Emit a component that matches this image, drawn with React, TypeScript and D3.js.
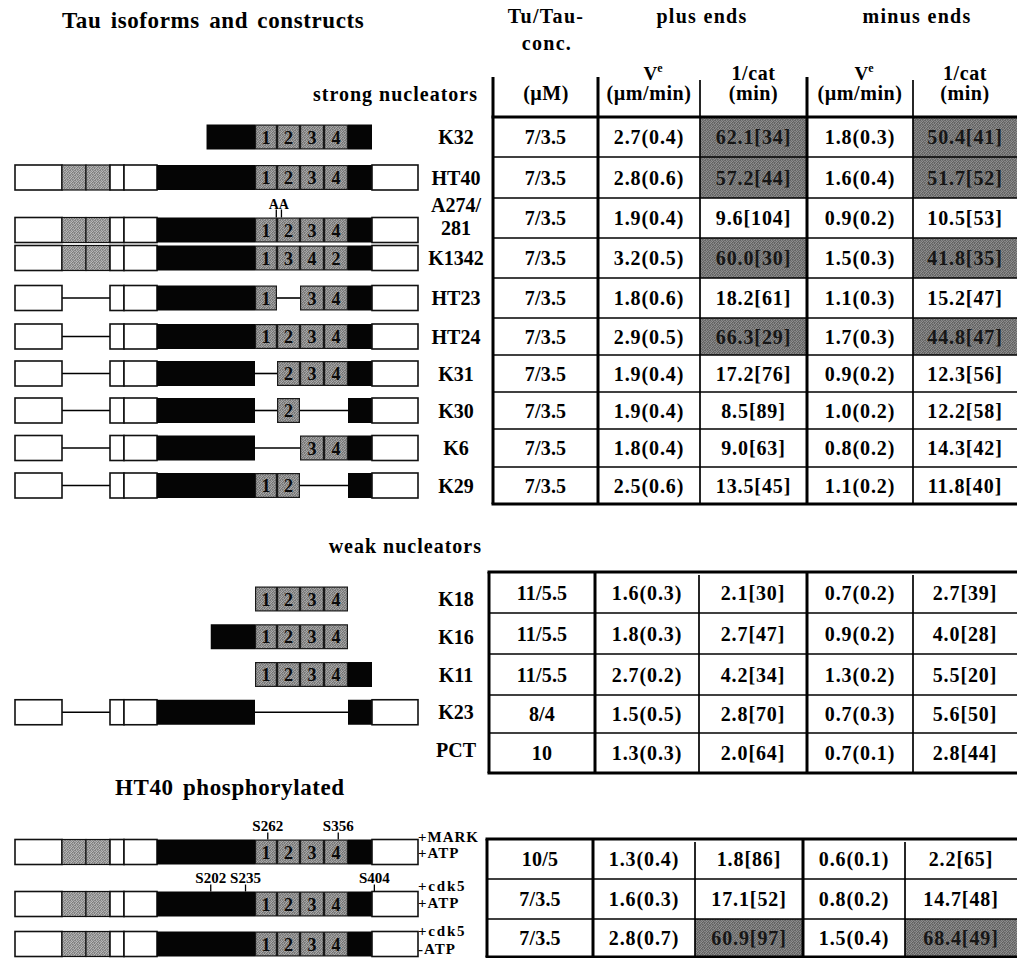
import React from 'react';
import * as d3 from 'd3';

// ---------------- data ----------------
const strongNames = ['K32', 'HT40', 'A274/281', 'K1342', 'HT23', 'HT24', 'K31', 'K30', 'K6', 'K29'];
const strongConc = ['7/3.5', '7/3.5', '7/3.5', '7/3.5', '7/3.5', '7/3.5', '7/3.5', '7/3.5', '7/3.5', '7/3.5'];
const strongPlusV = [2.7, 2.8, 1.9, 3.2, 1.8, 2.9, 1.9, 1.9, 1.8, 2.5];
const strongPlusVsd = [0.4, 0.6, 0.4, 0.5, 0.6, 0.5, 0.4, 0.4, 0.4, 0.6];
const strongPlusCat = [62.1, 57.2, 9.6, 60.0, 18.2, 66.3, 17.2, 8.5, 9.0, 13.5];
const strongPlusN = [34, 44, 104, 30, 61, 29, 76, 89, 63, 45];
const strongMinusV = [1.8, 1.6, 0.9, 1.5, 1.1, 1.7, 0.9, 1.0, 0.8, 1.1];
const strongMinusVsd = [0.3, 0.4, 0.2, 0.3, 0.3, 0.3, 0.2, 0.2, 0.2, 0.2];
const strongMinusCat = [50.4, 51.7, 10.5, 41.8, 15.2, 44.8, 12.3, 12.2, 14.3, 11.8];
const strongMinusN = [41, 52, 53, 35, 47, 47, 56, 58, 42, 40];

const weakNames = ['K18', 'K16', 'K11', 'K23', 'PCT'];
const weakConc = ['11/5.5', '11/5.5', '11/5.5', '8/4', '10'];
const weakPlusV = [1.6, 1.8, 2.7, 1.5, 1.3];
const weakPlusVsd = [0.3, 0.3, 0.2, 0.5, 0.3];
const weakPlusCat = [2.1, 2.7, 4.2, 2.8, 2.0];
const weakPlusN = [30, 47, 34, 70, 64];
const weakMinusV = [0.7, 0.9, 1.3, 0.7, 0.7];
const weakMinusVsd = [0.2, 0.2, 0.2, 0.3, 0.1];
const weakMinusCat = [2.7, 4.0, 5.5, 5.6, 2.8];
const weakMinusN = [39, 28, 20, 50, 44];

const phosNames = ['MARK+ATP', 'cdk5+ATP', 'cdk5-ATP'];
const phosTreatment = [['+MARK', '+ATP'], ['+cdk5', '+ATP'], ['+cdk5', '-ATP']];
const phosConc = ['10/5', '7/3.5', '7/3.5'];
const phosPlusV = [1.3, 1.6, 2.8];
const phosPlusVsd = [0.4, 0.3, 0.7];
const phosPlusCat = [1.8, 17.1, 60.9];
const phosPlusN = [86, 52, 97];
const phosMinusV = [0.6, 0.8, 1.5];
const phosMinusVsd = [0.1, 0.2, 0.4];
const phosMinusCat = [2.2, 14.7, 68.4];
const phosMinusN = [65, 48, 49];
const phosSites = [[262, 356], [202, 235, 404], []];

// HT40 domains in residue numbers: [from, to, kind]
const DOMAINS: Record<string, [number, number, string]> = {
  N: [1, 45, 'white'],
  N1: [45, 74, 'insert'],
  N2: [74, 103, 'insert'],
  E4: [103, 118, 'white'],
  P0: [118, 151, 'white'],
  P: [151, 244, 'black'],
  R1: [244, 275, 'repeat'],
  R2: [275, 306, 'repeat'],
  R3: [306, 337, 'repeat'],
  R4: [337, 369, 'repeat'],
  C1: [369, 402, 'black'],
  C2: [402, 441, 'white'],
};
const domainBreaks = [1, 45, 74, 103, 118, 151, 244, 275, 306, 337, 369, 402, 441];

// construct layouts ('-' = deleted region drawn as a linker line, '@' = truncated start)
const HT40_SPEC = 'N N1 N2 E4 P0 P R1 R2 R3 R4 C1 C2';
const strongConstructs = [
  'P@198 R1 R2 R3 R4 C1',
  HT40_SPEC,
  HT40_SPEC,
  HT40_SPEC,
  'N - - E4 P0 P R1 - R3 R4 C1 C2',
  'N - - E4 P0 P R1 R2 R3 R4 C1 C2',
  'N - - E4 P0 P - R2 R3 R4 C1 C2',
  'N - - E4 P0 P - R2 - - C1 C2',
  'N - - E4 P0 P - - R3 R4 C1 C2',
  'N - - E4 P0 P R1 R2 - - C1 C2',
];
const strongRepeatLabels = [null, null, null, ['1', '3', '4', '2'], null, null, null, null, null, null];
const mutationSites = [274, 281];
const mutationLabel = 'AA';
const weakConstructs = ['R1 R2 R3 R4', 'P@202 R1 R2 R3 R4', 'R1 R2 R3 R4 C1', 'N - - E4 P0 P - - - - C1 C2', ''];
const phosConstructs = [HT40_SPEC, HT40_SPEC, HT40_SPEC];

// ---------------- layout ----------------
const W = 1017;
const H = 958;
const FONT = "'Liberation Serif', 'Times New Roman', Times, serif";
const BAR_H = 25;
const LABEL_X = 456;

const res = d3
  .scaleLinear()
  .domain(domainBreaks)
  .range([15, 62, 86, 110, 124, 157, 255, 277, 300, 324, 348, 372, 418]);

const strongRowEdges = [117, 157, 198, 238, 278, 318, 355, 392, 429, 467, 504];
const weakRowEdges = [572, 613, 654, 695, 733, 773];
const phosRowEdges = [839, 879, 919, 957];

const strongCols = [493, 598, 700, 807, 913, 1017];
const weakCols = [489, 595, 699, 807, 913, 1017];
const phosCols = [487, 593, 695, 803, 905, 1017];
const thickCol = [true, true, false, true, false];

// halftone texture cells
const GRAIN = [
  [0.84, 1.18, 0.94, 1.1, 0.9],
  [1.1, 0.92, 1.22, 0.82, 1.14],
  [0.96, 1.24, 0.8, 1.04, 0.88],
  [1.2, 0.86, 1.08, 1.16, 0.8],
  [0.9, 1.06, 0.86, 0.94, 1.22],
];

function Grain({ id, base }: { id: string; base: number }) {
  return (
    <pattern id={id} width={5} height={5} patternUnits="userSpaceOnUse">
      {GRAIN.flatMap((row, r) =>
        row.map((k, c) => {
          const g = Math.max(0, Math.min(255, Math.round(base * k)));
          return <rect key={`${r}-${c}`} x={c} y={r} width={1} height={1} fill={`rgb(${g},${g},${g})`} />;
        })
      )}
    </pattern>
  );
}

function parseConstruct(spec: string) {
  const tokens = spec.split(/\s+/).filter(Boolean);
  const boxes: { key: string; from: number; to: number; kind: string }[] = [];
  const links: [number, number][] = [];
  let gap = false;
  let lastEnd: number | null = null;
  for (const t of tokens) {
    if (t === '-') {
      gap = true;
      continue;
    }
    const [key, start] = t.split('@');
    const [f0, to, kind] = DOMAINS[key];
    const from = start ? +start : f0;
    if (gap && lastEnd != null) links.push([lastEnd, from]);
    gap = false;
    boxes.push({ key, from, to, kind });
    lastEnd = to;
  }
  return { boxes, links };
}

function Construct({ spec, cy, h = BAR_H, labels }: { spec: string; cy: number; h?: number; labels?: string[] | null }) {
  const { boxes, links } = parseConstruct(spec);
  const top = cy - h / 2;
  const rl = labels || ['1', '2', '3', '4'];
  return (
    <g>
      {links.map(([a, b], i) => (
        <line key={`l${i}`} x1={res(a)} x2={res(b)} y1={cy} y2={cy} stroke="#000" strokeWidth={1.6} />
      ))}
      {boxes.map((b, i) => {
        const x0 = res(b.from);
        const w = res(b.to) - x0;
        if (b.kind === 'black') return <rect key={i} x={x0} y={top} width={w} height={h} fill="#050505" />;
        if (b.kind === 'white')
          return <rect key={i} x={x0} y={top} width={w} height={h} fill="#fff" stroke="#111" strokeWidth={1.6} />;
        if (b.kind === 'insert')
          return <rect key={i} x={x0} y={top} width={w} height={h} fill="url(#grainInsert)" stroke="#111" strokeWidth={1.2} />;
        const idx = +b.key.slice(1) - 1;
        return (
          <g key={i}>
            <rect x={x0 + 0.6} y={top + 0.6} width={w - 1.2} height={h - 1.2} fill="url(#grainRepeat)" stroke="#1a1a1a" strokeWidth={1.2} />
            <text x={x0 + w / 2} y={cy + 6.5} textAnchor="middle" fontSize={18} fontWeight="bold" fill="#0a0a0a">
              {rl[idx]}
            </text>
          </g>
        );
      })}
    </g>
  );
}

const fmtV = (v: number, sd: number) => `${v.toFixed(1)}(${sd.toFixed(1)})`;
const fmtCat = (c: number, n: number) => `${c.toFixed(1)}[${n}]`;

type TableProps = {
  rowEdges: number[];
  cols: number[];
  conc: string[];
  plusV: number[];
  plusVsd: number[];
  plusCat: number[];
  plusN: number[];
  minusV: number[];
  minusVsd: number[];
  minusCat: number[];
  minusN: number[];
  lineTop: number;
  topLine: number;
};

function DataTable(p: TableProps) {
  const n = p.conc.length;
  const rowY = d3.scaleLinear().domain(d3.range(n + 1)).range(p.rowEdges);
  const bottom = p.rowEdges[n];
  const cx = (j: number) => (p.cols[j] + p.cols[j + 1]) / 2;
  const rows = d3.range(n).map((i) => [
    { text: p.conc[i], shade: false },
    { text: fmtV(p.plusV[i], p.plusVsd[i]), shade: false },
    { text: fmtCat(p.plusCat[i], p.plusN[i]), shade: p.plusCat[i] > 30 },
    { text: fmtV(p.minusV[i], p.minusVsd[i]), shade: false },
    { text: fmtCat(p.minusCat[i], p.minusN[i]), shade: p.minusCat[i] > 30 },
  ]);
  return (
    <g>
      {rows.map((cells, i) =>
        cells.map((c, j) =>
          c.shade ? (
            <rect
              key={`s${i}-${j}`}
              x={p.cols[j]}
              y={rowY(i)}
              width={p.cols[j + 1] - p.cols[j]}
              height={rowY(i + 1) - rowY(i)}
              fill="url(#grainCell)"
            />
          ) : null
        )
      )}
      {rows.map((cells, i) =>
        cells.map((c, j) => (
          <text
            key={`t${i}-${j}`}
            x={cx(j)}
            y={rowY(i + 0.5) + 7}
            textAnchor="middle"
            fontSize={20}
            fontWeight="bold"
            letterSpacing={j === 0 ? 0.2 : 0.9}
            fill={c.shade ? '#161616' : '#000'}
          >
            {c.text}
          </text>
        ))
      )}
      {/* horizontal rules */}
      {d3.range(1, n).map((i) => (
        <line key={`h${i}`} x1={p.cols[0]} x2={W} y1={rowY(i)} y2={rowY(i)} stroke="#000" strokeWidth={1.7} />
      ))}
      <line x1={p.cols[0] - 1.5} x2={W} y1={p.topLine} y2={p.topLine} stroke="#000" strokeWidth={3} />
      <line x1={p.cols[0] - 1.5} x2={W} y1={bottom} y2={bottom} stroke="#000" strokeWidth={3} />
      {/* vertical rules */}
      {p.cols.slice(0, 5).map((x, j) => (
        <line
          key={`v${j}`}
          x1={x}
          x2={x}
          y1={thickCol[j] ? p.lineTop : p.lineTop + 3}
          y2={bottom}
          stroke="#000"
          strokeWidth={thickCol[j] ? 3 : 1.7}
        />
      ))}
    </g>
  );
}

export default function App() {
  const strongY = d3.scaleLinear().domain(d3.range(strongNames.length + 1)).range(strongRowEdges);
  const weakY = d3.scalePoint().domain(weakNames).range([599, 750]);
  const phosBarY = [852, 904, 944];
  const treatDy = [[-10, 6], [-13, 4], [-8, 10]];

  const hdr = { fontSize: 20, fontWeight: 'bold' as const, letterSpacing: 1.3, textAnchor: 'middle' as const };

  return (
    <svg
      width={W}
      height={H}
      viewBox={`0 0 ${W} ${H}`}
      style={{ position: 'absolute', left: 0, top: 0, background: '#fff' }}
      fontFamily={FONT}
    >
      <defs>
        <Grain id="grainRepeat" base={140} />
        <Grain id="grainInsert" base={152} />
        <Grain id="grainCell" base={118} />
      </defs>
      <rect width={W} height={H} fill="#fff" />

      {/* titles */}
      <text x={62} y={28} fontSize={23} fontWeight="bold" letterSpacing={0.6} wordSpacing={3}>
        Tau isoforms and constructs
      </text>
      <text x={478} y={101} fontSize={20} fontWeight="bold" letterSpacing={1} textAnchor="end">
        strong nucleators
      </text>
      <text x={482} y={553} fontSize={20} fontWeight="bold" letterSpacing={1} textAnchor="end">
        weak nucleators
      </text>
      <text x={115} y={795} fontSize={23} fontWeight="bold" letterSpacing={0.6} wordSpacing={3}>
        HT40 phosphorylated
      </text>

      {/* column headers */}
      <text x={546} y={23} {...hdr}>Tu/Tau-</text>
      <text x={547} y={50} {...hdr}>conc.</text>
      <text x={702} y={23} {...hdr}>plus ends</text>
      <text x={917} y={23} {...hdr}>minus ends</text>
      <text x={546} y={100} {...hdr} letterSpacing={0.5}>(µM)</text>
      {[strongCols[1], strongCols[3]].map((x0, k) => {
        const c1 = (x0 + strongCols[k * 2 + 2]) / 2;
        const c2 = (strongCols[k * 2 + 2] + strongCols[k * 2 + 3]) / 2;
        return (
          <g key={k}>
            <text x={c1 + 4} y={80} fontSize={19} fontWeight="bold" textAnchor="middle">
              V<tspan fontSize={12} dy={-8}>e</tspan>
            </text>
            <text x={c1} y={100} {...hdr} letterSpacing={0.6}>(µm/min)</text>
            <text x={c2} y={80} {...hdr} letterSpacing={0.6}>1/cat</text>
            <text x={c2} y={100} {...hdr} letterSpacing={0.6}>(min)</text>
          </g>
        );
      })}

      {/* tables */}
      <DataTable
        rowEdges={strongRowEdges}
        cols={strongCols}
        conc={strongConc}
        plusV={strongPlusV}
        plusVsd={strongPlusVsd}
        plusCat={strongPlusCat}
        plusN={strongPlusN}
        minusV={strongMinusV}
        minusVsd={strongMinusVsd}
        minusCat={strongMinusCat}
        minusN={strongMinusN}
        lineTop={77}
        topLine={117}
      />
      <DataTable
        rowEdges={weakRowEdges}
        cols={weakCols}
        conc={weakConc}
        plusV={weakPlusV}
        plusVsd={weakPlusVsd}
        plusCat={weakPlusCat}
        plusN={weakPlusN}
        minusV={weakMinusV}
        minusVsd={weakMinusVsd}
        minusCat={weakMinusCat}
        minusN={weakMinusN}
        lineTop={weakRowEdges[0]}
        topLine={weakRowEdges[0]}
      />
      <DataTable
        rowEdges={phosRowEdges}
        cols={phosCols}
        conc={phosConc}
        plusV={phosPlusV}
        plusVsd={phosPlusVsd}
        plusCat={phosPlusCat}
        plusN={phosPlusN}
        minusV={phosMinusV}
        minusVsd={phosMinusVsd}
        minusCat={phosMinusCat}
        minusN={phosMinusN}
        lineTop={phosRowEdges[0]}
        topLine={phosRowEdges[0]}
      />

      {/* strong nucleator constructs */}
      {strongNames.map((name, i) => {
        const cy = strongY(i + 0.5);
        const isMut = name === 'A274/281';
        const barY = isMut ? cy + 12 : cy;
        return (
          <g key={name}>
            <Construct spec={strongConstructs[i]} cy={barY} labels={strongRepeatLabels[i]} />
            {isMut ? (
              <g>
                {mutationSites.map((s) => (
                  <line key={s} x1={res(s)} x2={res(s)} y1={barY - BAR_H / 2 - 8} y2={barY - BAR_H / 2} stroke="#000" strokeWidth={1.3} />
                ))}
                <text
                  x={(res(mutationSites[0]) + res(mutationSites[1])) / 2}
                  y={barY - BAR_H / 2 - 9}
                  textAnchor="middle"
                  fontSize={14}
                  fontWeight="bold"
                >
                  {mutationLabel}
                </text>
                <text x={LABEL_X} y={cy - 6} textAnchor="middle" fontSize={20} fontWeight="bold">
                  {name.split('/')[0] + '/'}
                </text>
                <text x={LABEL_X} y={cy + 17} textAnchor="middle" fontSize={20} fontWeight="bold">
                  {name.split('/')[1]}
                </text>
              </g>
            ) : (
              <text x={LABEL_X} y={cy + 7} textAnchor="middle" fontSize={20} fontWeight="bold">
                {name}
              </text>
            )}
          </g>
        );
      })}

      {/* weak nucleator constructs */}
      {weakNames.map((name, i) => {
        const cy = weakY(name) as number;
        return (
          <g key={name}>
            {weakConstructs[i] ? <Construct spec={weakConstructs[i]} cy={cy} /> : null}
            <text x={LABEL_X} y={cy + 7} textAnchor="middle" fontSize={20} fontWeight="bold">
              {name}
            </text>
          </g>
        );
      })}

      {/* phosphorylated HT40 */}
      {phosNames.map((name, i) => {
        const cy = phosBarY[i];
        const top = cy - BAR_H / 2;
        return (
          <g key={name}>
            <Construct spec={phosConstructs[i]} cy={cy} />
            {phosSites[i].map((s) => (
              <g key={s}>
                <line x1={res(s)} x2={res(s)} y1={top - 7} y2={top} stroke="#000" strokeWidth={1.3} />
                <text x={res(s)} y={top - 9} textAnchor="middle" fontSize={15} fontWeight="bold">
                  {`S${s}`}
                </text>
              </g>
            ))}
            {phosTreatment[i].map((t, k) => (
              <text
                key={k}
                x={418}
                y={cy + treatDy[i][k]}
                fontSize={15}
                fontWeight="bold"
                letterSpacing={t.includes('cdk') ? 1.8 : 1}
              >
                {t}
              </text>
            ))}
          </g>
        );
      })}
    </svg>
  );
}
